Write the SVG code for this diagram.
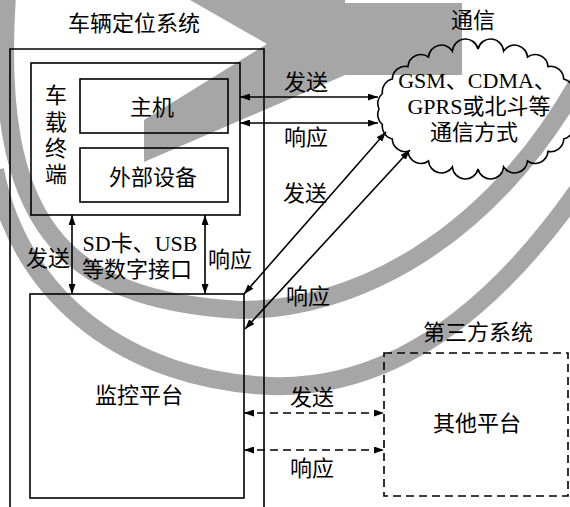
<svg xmlns="http://www.w3.org/2000/svg" width="570" height="507" viewBox="0 0 570 507">
<defs>
<marker id="ah" viewBox="0 0 10 7" refX="10" refY="3.5" markerWidth="10" markerHeight="7" markerUnits="userSpaceOnUse" orient="auto-start-reverse">
<path d="M0,0 L10,3.5 L0,7 Z" fill="#000"/>
</marker>
<style>
.t{font-family:"Liberation Serif","Noto Sans CJK SC",serif;font-size:22px;fill:#000;text-anchor:middle;dominant-baseline:central}
.box{fill:none;stroke:#000;stroke-width:1.6}
.dbox{fill:none;stroke:#000;stroke-width:1.6;stroke-dasharray:8,5}
.ln{fill:none;stroke:#000;stroke-width:1.6;marker-start:url(#ah);marker-end:url(#ah)}
.dln{fill:none;stroke:#000;stroke-width:1.6;stroke-dasharray:8,5;marker-start:url(#ah);marker-end:url(#ah)}
.wm{fill:none;stroke:#a6a6a6;stroke-width:18}
</style>
</defs>
<rect width="570" height="507" fill="#fff"/>
<g id="watermark">
<polygon points="190,0 345,0 345,3 462,3 462,75 345,75 144,162 144,120 267,44" fill="#a6a6a6"/>
<path class="wm" d="M7,-5 C-8,220 60,300 240,310 C350,310 490,245 585,70"/>
<path class="wm" d="M-5,170 C20,300 130,380 270,386 C390,390 495,312 585,180"/>
</g>
<g id="vehicle-system">
<path class="box" d="M10,510 V49 H264 V510"/>
<text class="t" x="134" y="23">车辆定位系统</text>
</g>
<g id="terminal">
<rect class="box" x="31" y="63" width="209" height="152"/>
<text class="t" x="56" y="95">车</text>
<text class="t" x="56" y="122">载</text>
<text class="t" x="56" y="148">终</text>
<text class="t" x="56" y="174">端</text>
</g>
<g id="host">
<rect class="box" x="80" y="79" width="148" height="54"/>
<text class="t" x="152" y="107">主机</text>
</g>
<g id="device">
<rect class="box" x="80" y="148" width="148" height="54"/>
<text class="t" x="153" y="177">外部设备</text>
</g>
<g id="monitor">
<rect class="box" x="30" y="294" width="214" height="204"/>
<text class="t" x="139" y="395">监控平台</text>
</g>
<g id="cloud">
<path class="box" d="M577,109 A13,13 0 0 1 573.6,124.5 A13,13 0 0 1 563.7,139 A13,13 0 0 1 548,151.4 A13,13 0 0 1 527.5,161 A13,13 0 0 1 503.6,167 A13,13 0 0 1 478,169 A13,13 0 0 1 452.4,167 A13,13 0 0 1 428.5,161 A13,13 0 0 1 408,151.4 A13,13 0 0 1 392.3,139 A13,13 0 0 1 382.4,124.5 A13,13 0 0 1 379,109 A13,13 0 0 1 382.4,93.5 A13,13 0 0 1 392.3,79 A13,13 0 0 1 408,66.6 A13,13 0 0 1 428.5,57 A13,13 0 0 1 452.4,51 A13,13 0 0 1 478,49 A13,13 0 0 1 503.6,51 A13,13 0 0 1 527.5,57 A13,13 0 0 1 548,66.6 A13,13 0 0 1 563.7,79 A13,13 0 0 1 573.6,93.5 A13,13 0 0 1 577,109 Z"/>
<text class="t" x="473" y="20">通信</text>
<text class="t" x="477" y="80">GSM、CDMA、</text>
<text class="t" x="479" y="106">GPRS或北斗等</text>
<text class="t" x="474" y="132">通信方式</text>
</g>
<g id="third-party">
<rect class="dbox" x="384" y="353" width="184" height="143"/>
<text class="t" x="478" y="332">第三方系统</text>
<text class="t" x="477" y="423">其他平台</text>
</g>
<g id="connectors">
<line class="ln" x1="240" y1="97" x2="378" y2="97"/>
<line class="ln" x1="240" y1="123" x2="378" y2="123"/>
<line class="ln" x1="72" y1="215" x2="72" y2="294"/>
<line class="ln" x1="205" y1="215" x2="205" y2="294"/>
<line class="ln" x1="244" y1="294" x2="386" y2="132"/>
<line class="ln" x1="245" y1="329" x2="410" y2="150"/>
<line class="dln" x1="244" y1="413" x2="384" y2="413"/>
<line class="dln" x1="244" y1="450" x2="384" y2="450"/>
<text class="t" x="306" y="82">发送</text>
<text class="t" x="306" y="137">响应</text>
<text class="t" x="305" y="193">发送</text>
<text class="t" x="308" y="296">响应</text>
<text class="t" x="48" y="258">发送</text>
<text class="t" x="140" y="243">SD卡、USB</text>
<text class="t" x="137" y="269">等数字接口</text>
<text class="t" x="230" y="259">响应</text>
<text class="t" x="312" y="397">发送</text>
<text class="t" x="312" y="468">响应</text>
</g>
</svg>
